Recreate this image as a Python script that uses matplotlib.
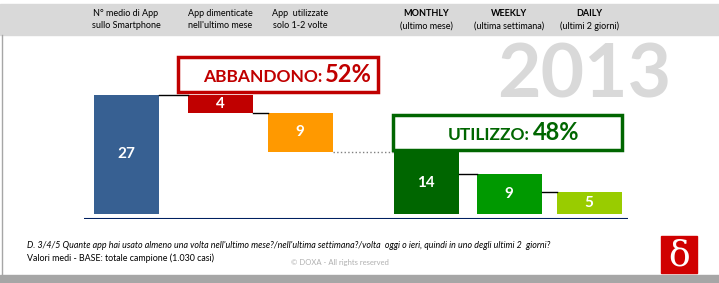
import matplotlib.pyplot as plt
from matplotlib.patches import Rectangle

plt.rcParams['font.family'] = ['Lato', 'DejaVu Sans']

# data
headers_top = ["N° medio di App", "App dimenticate", "App  utilizzate",
               "MONTHLY", "WEEKLY", "DAILY"]
headers_sub = ["sullo Smartphone", "nell'ultimo mese", "solo 1-2 volte",
               "(ultimo mese)", "(ultima settimana)", "(ultimi 2 giorni)"]
header_bold = [False, False, False, True, True, True]
values = [27, 4, 9, 14, 9, 5]
bottoms = [0, 23, 14, 0, 0, 0]
bar_colors = ["#376092", "#C00000", "#FF9900", "#006600", "#009900", "#99CC00"]
abbandono_pct = 52
utilizzo_pct = 48
year = "2013"

W, H = 719, 283
fig = plt.figure(figsize=(W / 100, H / 100), dpi=100)

def fx(px):
    return px / W

def fy(py):
    return 1 - py / H

# frame: header band, left border, bottom band
fig.patches.append(Rectangle((0, fy(35)), 1, fy(4) - fy(35), transform=fig.transFigure,
                             color="#d9d9d9", zorder=0))
fig.patches.append(Rectangle((0, 0), 1, fy(275), transform=fig.transFigure,
                             color="#a6a6a6", zorder=0))
fig.add_artist(plt.Line2D([fx(2), fx(2)], [fy(35), fy(275)], transform=fig.transFigure,
                          color="#a6a6a6", lw=1))

# bar axes: x in pixels, y in data units
ax = fig.add_axes([fx(84), fy(219), fx(628) - fx(84), fy(95) - fy(219)])
centers = [126, 220, 300, 426, 509, 589]
bw = 65
ax.set_xlim(0, 628 - 84)
ax.set_ylim(-1.25, 27)
xs = [c - 84 for c in centers]
bars = ax.bar(xs, values, bottom=bottoms, width=bw, color=bar_colors, clip_on=False)
for b, v in zip(bars, values):
    ax.text(b.get_x() + bw / 2, b.get_y() + b.get_height() / 2, str(v),
            ha="center", va="center", color="white", fontsize=11, fontweight="bold")

# connectors
tops = [b + v for b, v in zip(bottoms, values)]
for i in range(len(values) - 1):
    if i < 2:
        level = bottoms[i] if i > 0 else tops[i]
    else:
        level = tops[i + 1]
    style = ":" if i == 2 else "-"
    col = "#808080" if i == 2 else "black"
    ax.plot([xs[i] + bw / 2, xs[i + 1] - bw / 2], [level, level], ls=style,
            color=col, lw=1, clip_on=False)
ax.axhline(-1.25, color="#002060", lw=1.5)
ax.axis("off")

# header labels
for c, t, s, bold in zip(centers, headers_top, headers_sub, header_bold):
    fig.text(fx(c), fy(14), t, ha="center", va="center", fontsize=6.5,
             fontweight="bold" if bold else "normal")
    fig.text(fx(c), fy(26), s, ha="center", va="center", fontsize=6.5)

# year watermark
fig.text(fx(584), fy(76), year, ha="center", va="center", fontsize=54,
         fontweight="bold", color="#d9d9d9")

# summary boxes
fig.patches.append(Rectangle((fx(178), fy(92)), fx(200), fy(57) - fy(92),
                             transform=fig.transFigure, fill=False, ec="#C00000", lw=2.5))
fig.text(fx(322), fy(77), "ABBANDONO:", ha="right", va="center", fontsize=12.5,
         fontweight="bold", color="#C00000")
fig.text(fx(325), fy(75), f"{abbandono_pct}%", ha="left", va="center", fontsize=17,
         fontweight="bold", color="#C00000")
fig.patches.append(Rectangle((fx(393), fy(150)), fx(229), fy(115) - fy(150),
                             transform=fig.transFigure, fill=False, ec="#006600", lw=2.5))
fig.text(fx(530), fy(135), "UTILIZZO:", ha="right", va="center", fontsize=12.5,
         fontweight="bold", color="#006600")
fig.text(fx(533), fy(133), f"{utilizzo_pct}%", ha="left", va="center", fontsize=17,
         fontweight="bold", color="#006600")

# footnotes
fig.text(fx(27), fy(245), "D. 3/4/5 Quante app hai usato almeno una volta nell'ultimo mese?/nell'ultima "
         "settimana?/volta  oggi o ieri, quindi in uno degli ultimi 2  giorni?",
         ha="left", va="center", fontsize=6.4, style="italic")
fig.text(fx(27), fy(258), "Valori medi - BASE: totale campione (1.030 casi)",
         ha="left", va="center", fontsize=6.4)
fig.text(fx(340), fy(263), "© DOXA - All rights reserved", ha="center", va="center",
         fontsize=5.5, color="#b0b0b0")

# logo
fig.patches.append(Rectangle((fx(661), fy(273)), fx(36), fy(236) - fy(273),
                             transform=fig.transFigure, color="#D00000"))
fig.text(fx(679), fy(256), "δ", ha="center", va="center", fontsize=26, color="white",
         family="DejaVu Serif")

fig.savefig("out.png", dpi=100)
